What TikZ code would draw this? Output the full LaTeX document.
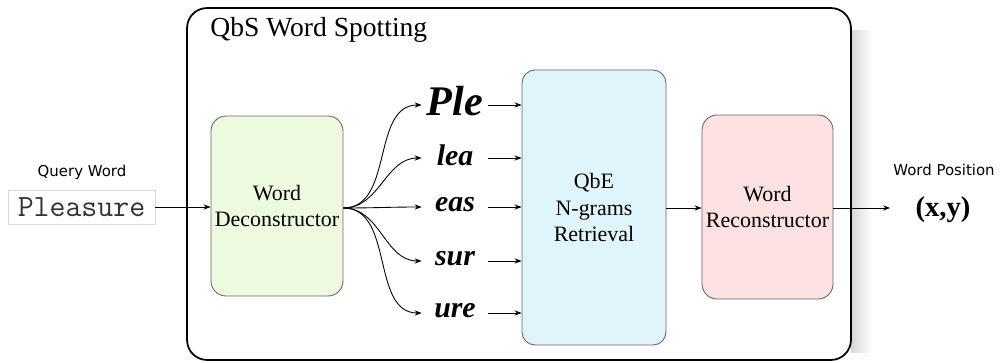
\documentclass[tikz,border=0pt]{standalone}
\usepackage{fontspec}
\setmainfont{Liberation Serif}
\setsansfont{DejaVu Sans}
\usetikzlibrary{arrows.meta}
\definecolor{gfill}{HTML}{EEFADF}
\definecolor{bfill}{HTML}{E0F5FB}
\definecolor{pfill}{HTML}{FBE1E1}
\definecolor{bord}{HTML}{666666}
\tikzset{
  blk/.style={draw=bord, line width=0.5pt, rounded corners=0.3cm, align=center, inner sep=0pt,
    font=\fontsize{12.5}{15}\selectfont},
  arr/.style={-{Stealth[length=4pt,width=3pt]}, line width=0.5pt},
  ngram/.style={minimum width=1.32cm, minimum height=0.6cm, inner sep=0pt,
    font=\rmfamily\bfseries\itshape\fontsize{17}{17}\selectfont},
  lbl/.style={font=\sffamily\fontsize{8.5}{10}\selectfont, inner sep=0pt}
}
\begin{document}
\begin{tikzpicture}[x=0.02cm, y=-0.02cm]
\useasboundingbox (0,0) rectangle (1000,362);
% shadow
\shade[left color=black!16, right color=white] (851,30) rectangle (872,352);
% outer box
\node[draw, line width=1pt, rounded corners=0.4cm, minimum width=13.28cm, minimum height=7.04cm, fill=white, inner sep=0pt] (outer) at (519,184) {};
\node[anchor=west, inner sep=0pt, font=\fontsize{15.7}{18}\selectfont] (title) at (210,30) {QbS Word Spotting};
% input
\node[lbl] (qw) at (82,172) {Query Word};
\node[draw=black!15, line width=0.5pt, minimum width=2.94cm, minimum height=0.68cm, inner sep=0pt,
  font=\ttfamily\fontsize{17.6}{18}\selectfont, text=black!80] (pl) at (81.5,207) {Pleasure};
% blocks
\node[blk, fill=gfill, minimum width=2.64cm, minimum height=3.6cm] (dec) at (277,206) {Word\\Deconstructor};
\node[blk, fill=bfill, minimum width=2.88cm, minimum height=5.5cm, rounded corners=0.26cm] (qbe) at (594,207.5) {QbE\\N-grams\\Retrieval};
\node[blk, fill=pfill, minimum width=2.62cm, minimum height=3.68cm] (rec) at (767.5,207) {Word\\Reconstructor};
% n-grams
\node[ngram, font=\rmfamily\bfseries\itshape\fontsize{24}{24}\selectfont] (g1) at (455,101) {Ple};
\node[ngram] (g2) at (455,155) {lea};
\node[ngram] (g3) at (455,205) {eas};
\node[ngram] (g4) at (455,259) {sur};
\node[ngram] (g5) at (455,311) {ure};
% output
\node[lbl] (wp) at (944,170) {Word Position};
\node[inner sep=0pt, font=\bfseries\fontsize{16.3}{18}\selectfont] (xy) at (943,210) {(x,y)};
\coordinate (out) at (890,208);
% connectors
\draw[arr] (pl.east) -- (dec.west |- pl.east);
\foreach \g/\y in {g1/105,g2/158,g3/207,g4/261,g5/313}{
  \draw[arr] (dec.east |- 0,208) to[out=0,in=180] (\g.west |- 0,\y);
  \draw[arr] (\g.east |- 0,\y) -- (qbe.west |- 0,\y);
}
\draw[arr] (qbe.east |- 0,208) -- (rec.west |- 0,208);
\draw[arr] (rec.east |- 0,208) -- (out);
\end{tikzpicture}
\end{document}
